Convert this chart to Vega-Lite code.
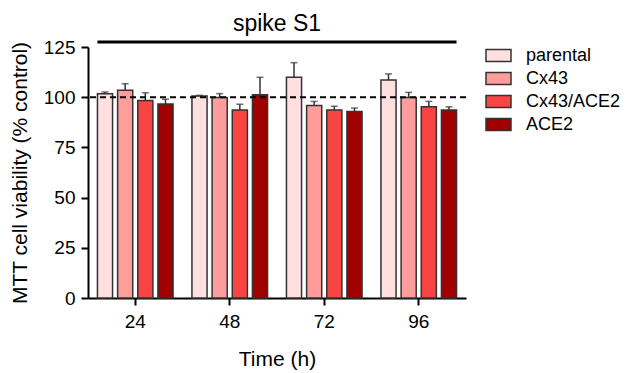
{
  "$schema": "https://vega.github.io/schema/vega-lite/v6.json",
  "width": 378,
  "height": 251,
  "padding": {"left": 9, "top": 13, "right": 5, "bottom": 5},
  "background": "white",
  "config": {
    "font": "Liberation Sans",
    "view": {"stroke": null},
    "axis": {"domainColor": "black", "domainWidth": 2, "tickColor": "black", "tickWidth": 2, "labelColor": "black", "titleColor": "black", "labelFont": "Liberation Sans", "titleFont": "Liberation Sans", "titleFontWeight": "normal", "grid": false}
  },
  "title": {"text": "spike S1", "fontSize": 23, "font": "Liberation Sans", "fontWeight": "normal", "color": "black", "anchor": "middle", "offset": 2},
  "data": {"values": [
    {"time": "24", "group": "parental", "mean": 101.7, "upper": 102.6},
    {"time": "24", "group": "Cx43", "mean": 103.4, "upper": 106.7},
    {"time": "24", "group": "Cx43/ACE2", "mean": 98.4, "upper": 102.2},
    {"time": "24", "group": "ACE2", "mean": 96.6, "upper": 99.0},
    {"time": "48", "group": "parental", "mean": 100.6, "upper": 100.9},
    {"time": "48", "group": "Cx43", "mean": 99.9, "upper": 101.8},
    {"time": "48", "group": "Cx43/ACE2", "mean": 93.6, "upper": 96.5},
    {"time": "48", "group": "ACE2", "mean": 101.2, "upper": 109.9},
    {"time": "72", "group": "parental", "mean": 109.9, "upper": 117.2},
    {"time": "72", "group": "Cx43", "mean": 95.9, "upper": 97.9},
    {"time": "72", "group": "Cx43/ACE2", "mean": 93.6, "upper": 95.5},
    {"time": "72", "group": "ACE2", "mean": 92.9, "upper": 94.6},
    {"time": "96", "group": "parental", "mean": 108.6, "upper": 111.6},
    {"time": "96", "group": "Cx43", "mean": 99.9, "upper": 102.4},
    {"time": "96", "group": "Cx43/ACE2", "mean": 95.2, "upper": 97.9},
    {"time": "96", "group": "ACE2", "mean": 93.6, "upper": 95.2}
  ]},
  "encoding": {
    "x": {"field": "time", "type": "nominal", "scale": {"paddingInner": 0.2, "paddingOuter": 0.1},
      "axis": {"title": "Time (h)", "labelAngle": 0, "labelFontSize": 19, "titleFontSize": 21, "tickSize": 7, "labelPadding": 7, "titlePadding": 17}},
    "xOffset": {"field": "group", "type": "nominal", "sort": ["parental", "Cx43", "Cx43/ACE2", "ACE2"], "scale": {"paddingInner": 0.25, "paddingOuter": 0}}
  },
  "layer": [
    {
      "mark": {"type": "bar", "stroke": "#333333", "strokeWidth": 1.5},
      "encoding": {
        "y": {"field": "mean", "type": "quantitative", "scale": {"domain": [0, 125], "nice": false},
          "axis": {"title": "MTT cell viability (% control)", "values": [0, 12.5, 25, 37.5, 50, 62.5, 75, 87.5, 100, 112.5, 125],
            "labelExpr": "datum.value % 25 == 0 ? datum.label : ''",
            "tickSize": {"condition": {"test": "datum.value % 25 != 0", "value": 4}, "value": 7},
            "labelFontSize": 19, "titleFontSize": 21, "labelPadding": 6, "titlePadding": 13}},
        "color": {"field": "group", "type": "nominal", "sort": ["parental", "Cx43", "Cx43/ACE2", "ACE2"],
          "scale": {"domain": ["parental", "Cx43", "Cx43/ACE2", "ACE2"], "range": ["#ffdfdf", "#ff9d9d", "#f94444", "#a00000"]},
          "legend": {"title": null, "orient": "none", "legendX": 397, "legendY": -5, "labelFontSize": 18, "labelColor": "black", "symbolType": "M-1,-0.48L1,-0.48L1,0.48L-1,0.48Z", "symbolSize": 625, "symbolStrokeColor": "#333333", "symbolStrokeWidth": 1.5, "symbolOpacity": 1, "rowPadding": 0, "labelOffset": 14, "padding": 0}}
      }
    },
    {
      "mark": {"type": "rule", "color": "#333333", "strokeWidth": 1.5},
      "encoding": {"y": {"field": "mean", "type": "quantitative"}, "y2": {"field": "upper"}}
    },
    {
      "mark": {"type": "tick", "color": "#333333", "thickness": 1.5, "size": 7, "orient": "horizontal"},
      "encoding": {"y": {"field": "upper", "type": "quantitative"}}
    },
    {
      "data": {"values": [{"ref": 100}]},
      "mark": {"type": "rule", "color": "black", "strokeWidth": 2, "strokeDash": [6, 4]},
      "encoding": {"y": {"field": "ref", "type": "quantitative"}, "x": null, "xOffset": null}
    },
    {
      "data": {"values": [{"level": 127.5, "start": "24", "end": "96"}]},
      "mark": {"type": "rule", "color": "black", "strokeWidth": 3, "clip": false},
      "encoding": {"y": {"field": "level", "type": "quantitative"}, "x": {"field": "start", "type": "nominal", "bandPosition": 0}, "x2": {"field": "end", "bandPosition": 1}, "xOffset": null}
    }
  ]
}
